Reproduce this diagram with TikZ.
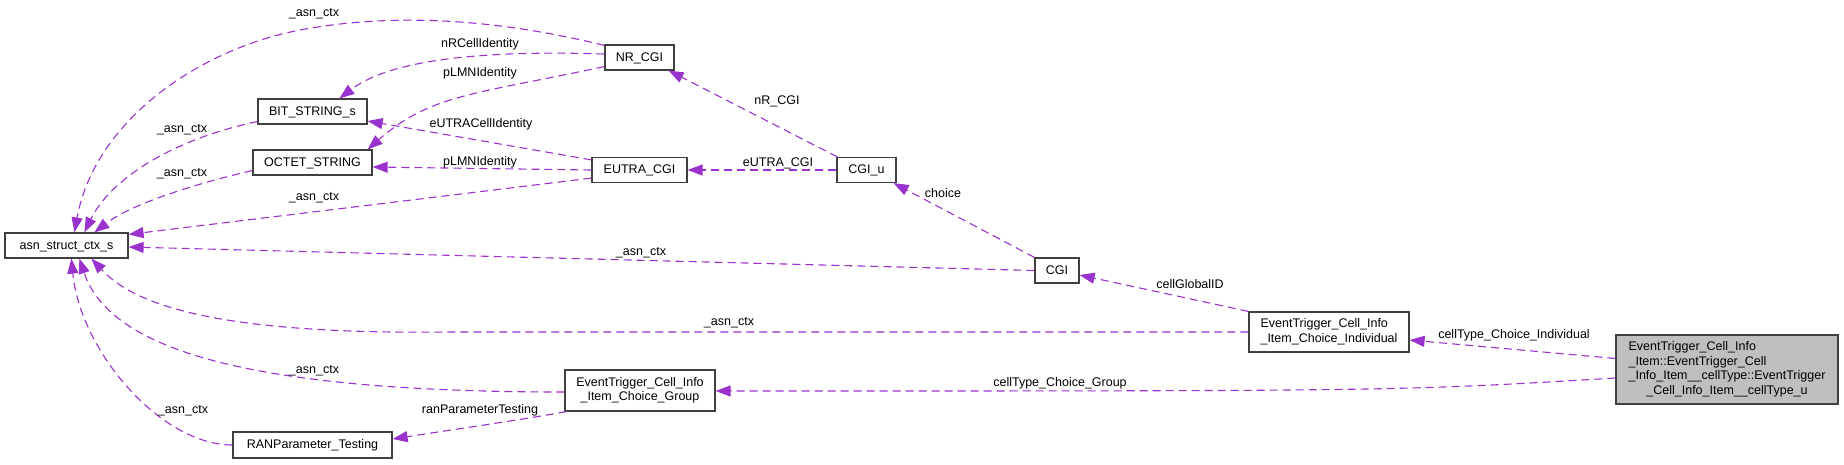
\documentclass[tikz,border=0pt]{standalone}
\usepackage{fontspec}
\setmainfont{Liberation Sans}
\usetikzlibrary{arrows.meta,calc}
\definecolor{edgec}{HTML}{9A32CD}
\definecolor{boxgray}{HTML}{BFBFBF}
\begin{document}
\begin{tikzpicture}[x=1pt,y=-1pt,
  cls/.style={draw=black!75, line width=1.2pt, fill=white, inner sep=0pt,
    font=\fontsize{12.5}{14.7}\selectfont, text height=10pt, text depth=3pt},
  clsm/.style={draw=black!75, line width=1.2pt, fill=white, inner sep=0pt,
    font=\fontsize{12.5}{14.7}\selectfont},
  lbl/.style={inner sep=0pt, font=\fontsize{12.5}{14.7}\selectfont,
    text height=12pt, text depth=3pt},
  depedge/.style={draw=edgec, line width=1.1pt, dash pattern=on 8pt off 5pt,
    -{Triangle[length=15pt,width=11pt]}}]
\fill[white] (0,0) rectangle (1844,464);
\useasboundingbox (0,0) rectangle (1844,464);

% nodes
\node[cls, minimum width=123pt, minimum height=25pt] (asn) at (66.5,245.5) {asn\_struct\_ctx\_s};
\node[cls, minimum width=109pt, minimum height=25pt] (bit) at (312.5,111.5) {BIT\_STRING\_s};
\node[cls, minimum width=119pt, minimum height=25pt] (oct) at (312.5,162.5) {OCTET\_STRING};
\node[cls, minimum width=69pt, minimum height=25pt] (nr) at (639.5,57.5) {NR\_CGI};
\node[cls, minimum width=95pt, minimum height=25pt] (eutra) at (639.5,170) {EUTRA\_CGI};
\node[cls, minimum width=59pt, minimum height=25pt] (cgiu) at (866.5,170) {CGI\_u};
\node[cls, minimum width=44pt, minimum height=25pt] (cgi) at (1057,270.5) {CGI};
\node[clsm, minimum width=160pt, minimum height=40pt] (ind) at (1329,332)
  {\begin{tabular}{@{}l@{}}EventTrigger\_Cell\_Info\\ \_Item\_Choice\_Individual\end{tabular}};
\node[clsm, minimum width=150pt, minimum height=41pt] (grp) at (640,390.5)
  {\begin{tabular}{@{}c@{}}EventTrigger\_Cell\_Info\\ \_Item\_Choice\_Group\end{tabular}};
\node[cls, minimum width=159pt, minimum height=26pt] (ran) at (312.5,445) {RANParameter\_Testing};
\node[clsm, fill=boxgray, minimum width=222pt, minimum height=69pt] (main) at (1727,369.5)
  {\begin{tabular}{@{}l@{}}EventTrigger\_Cell\_Info\\ \_Item::EventTrigger\_Cell\\ \_Info\_Item\_\_cellType::EventTrigger\\ \multicolumn{1}{@{}c@{}}{\_Cell\_Info\_Item\_\_cellType\_u}\end{tabular}};

% edges
\draw[depedge] ($(nr.north west)+(0,1)$) .. controls (480,15) and (380,15) .. (300,30)
  .. controls (200,49) and (95,120) .. ($(asn.north west)+(70,0)$);
\draw[depedge] ($(nr.west)+(0,-3.5)$) .. controls (480,50) and (390,60) .. ($(bit.north west)+(82,0)$);
\draw[depedge] ($(nr.south west)+(0,-4)$) .. controls (470,95) and (430,95) .. ($(oct.north east)+(-5,0)$);
\draw[depedge] ($(eutra.north west)+(0,3)$) -- ($(bit.east)+(0,9.5)$);
\draw[depedge] (eutra.west) -- ($(oct.east)+(0,4.5)$);
\draw[depedge] ($(eutra.south west)+(0,-5)$) -- ($(asn.north east)+(0,2)$);
\draw[depedge] ($(bit.west)+(0,10)$) .. controls (170,140) and (110,180) .. ($(asn.north west)+(80,0)$);
\draw[depedge] ($(oct.west)+(0,8)$) .. controls (190,185) and (130,205) .. ($(asn.north west)+(90,0)$);
\draw[depedge] ($(cgiu.north west)+(1,0)$) -- ($(nr.south east)+(-6,0)$);
\draw[depedge] (cgiu.west) -- (eutra.east);
\draw[depedge] (cgi.north west) -- ($(cgiu.south east)+(-3,0)$);
\draw[depedge] (cgi.west) -- ($(asn.east)+(0,1.5)$);
\draw[depedge] (ind.north west) -- ($(cgi.east)+(0,4.5)$);
\draw[depedge] (ind.west) -- (450,332) .. controls (200,335) and (130,300) .. ($(asn.south west)+(87,0)$);
\draw[depedge] ($(grp.west)+(0,1.5)$) .. controls (250,392) and (110,350) .. ($(asn.south west)+(75,0)$);
\draw[depedge] (ran.west) .. controls (160,445) and (80,350) .. ($(asn.south west)+(67,0)$);
\draw[depedge] ($(grp.south west)+(2,0)$) .. controls (520,420) and (450,430) .. ($(ran.east)+(0,-6)$);
\draw[depedge] ($(main.west)+(0,-11)$) -- ($(ind.east)+(0,8)$);
\draw[depedge] ($(main.west)+(0,8.5)$) .. controls (1400,391) .. ($(grp.east)+(0,0.5)$);

% labels
\node[lbl] (l1) at (314,12) {\_asn\_ctx};
\node[lbl] (l2) at (480,43) {nRCellIdentity};
\node[lbl] (l3) at (480,72) {pLMNIdentity};
\node[lbl] (l4) at (481,123) {eUTRACellIdentity};
\node[lbl] (l5) at (480,161) {pLMNIdentity};
\node[lbl] (l6) at (182,128) {\_asn\_ctx};
\node[lbl] (l7) at (182,172) {\_asn\_ctx};
\node[lbl] (l8) at (314,196) {\_asn\_ctx};
\node[lbl] (l9) at (777,100) {nR\_CGI};
\node[lbl] (l10) at (778,162) {eUTRA\_CGI};
\node[lbl] (l11) at (943,193) {choice};
\node[lbl] (l12) at (641,251) {\_asn\_ctx};
\node[lbl] (l13) at (1190,284) {cellGlobalID};
\node[lbl] (l14) at (729,321) {\_asn\_ctx};
\node[lbl] (l15) at (314,369) {\_asn\_ctx};
\node[lbl] (l16) at (183,409) {\_asn\_ctx};
\node[lbl] (l17) at (480,409) {ranParameterTesting};
\node[lbl] (l18) at (1514,334) {cellType\_Choice\_Individual};
\node[lbl] (l19) at (1060,382) {cellType\_Choice\_Group};
\end{tikzpicture}
\end{document}
